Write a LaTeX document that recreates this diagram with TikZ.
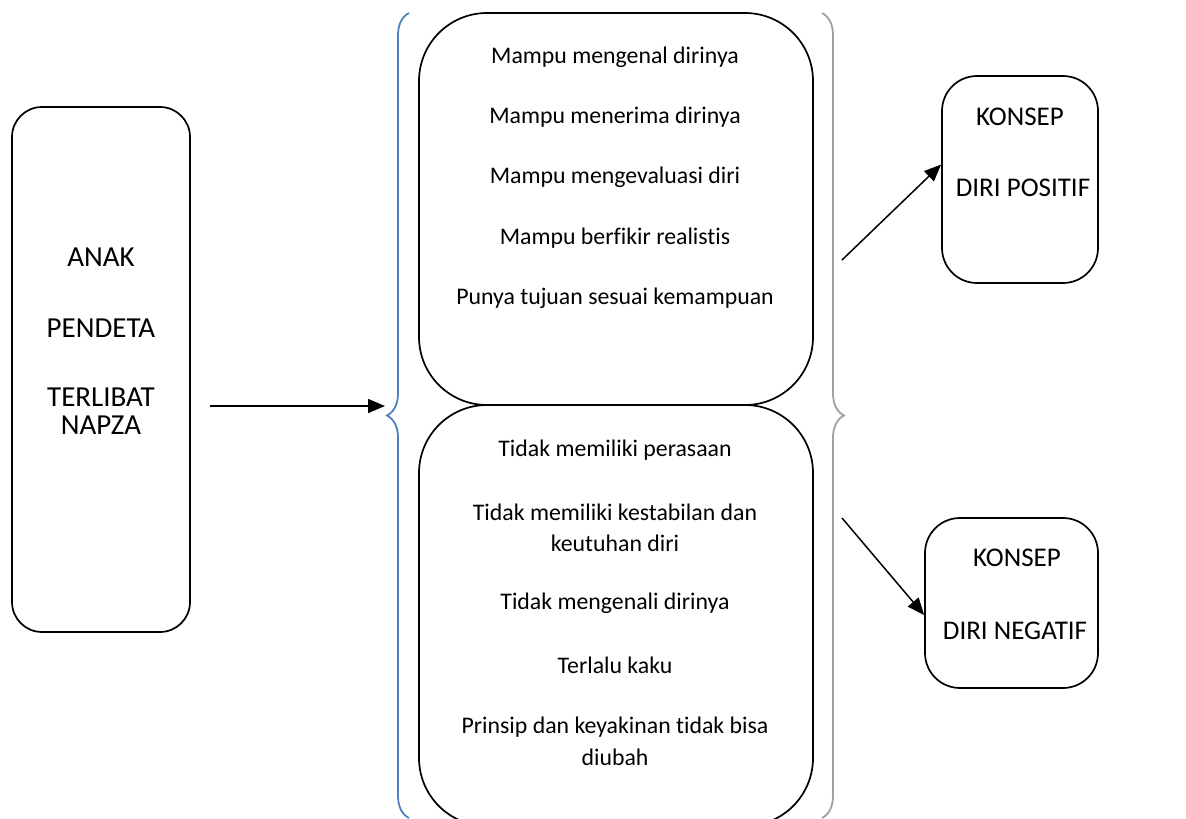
\documentclass[tikz,border=0pt]{standalone}
\usepackage{fontspec}
\setmainfont{Carlito}[Ligatures=CommonOff]
\usetikzlibrary{arrows.meta,decorations.pathreplacing,positioning}
\definecolor{braceblue}{HTML}{4F81BD}
\definecolor{bracegray}{HTML}{A0A0A0}

\begin{document}
\begin{tikzpicture}[x=1pt,y=-1pt,
    box/.style={draw,line width=1.7pt,rounded corners=#1,inner sep=0pt},
    box/.default=30pt,
    txt/.style={font=\fontsize{23.8}{28}\selectfont},
    big/.style={font=\fontsize{29}{34}\selectfont},
    mid/.style={font=\fontsize{27}{32}\selectfont},
    arr/.style={line width=1.5pt,-{Triangle[length=17pt,width=14pt]}},
    brc/.style={line width=1.8pt,decorate,decoration={brace,amplitude=22pt}}]
  \useasboundingbox (0,0) rectangle (1186,819);
  % boxes
  \node[box=30pt,minimum width=178pt,minimum height=525pt] (anak) at (101,369.5) {};
  \node[box=68pt,minimum width=394pt,minimum height=392pt] (ciri) at (616,209) {};
  \node[box=68pt,minimum width=394pt,minimum height=421pt] (tidak) at (616,615.5) {};
  \node[box=35pt,minimum width=156pt,minimum height=207pt] (pos) at (1020,179.5) {};
  \node[box=35pt,minimum width=173pt,minimum height=170pt] (neg) at (1011.5,603) {};
  % braces
  \draw[brc,braceblue] (409,818) -- (409,13);
  \draw[brc,bracegray] (822,13) -- (822,818);
  % texts
  \foreach \y/\t [count=\i] in {257/ANAK,328/PENDETA,397/TERLIBAT,425/NAPZA}
    \node[big] (a\i) at (101,\y) {\t};
  \foreach \y/\t [count=\i] in {57/Mampu mengenal dirinya,117/Mampu menerima dirinya,
      177/Mampu mengevaluasi diri,238/Mampu berfikir realistis,
      298/Punya tujuan sesuai kemampuan}
    \node[txt] (c\i) at (615,\y) {\t};
  \foreach \y/\t [count=\i] in {450/Tidak memiliki perasaan,512/Tidak memiliki kestabilan dan,
      543/keutuhan diri,603/Tidak mengenali dirinya,665/Terlalu kaku,
      727/Prinsip dan keyakinan tidak bisa,757/diubah}
    \node[txt] (d\i) at (615,\y) {\t};
  \node[mid] (p1) at (1020,117) {KONSEP};
  \node[mid] (p2) at (1023,188) {DIRI POSITIF};
  \node[mid] (n1) at (1017,558) {KONSEP};
  \node[mid] (n2) at (1015,631) {DIRI NEGATIF};
  % arrows
  \coordinate (a0) at (210,406);
  \coordinate (b0) at (385,406);
  \coordinate (p0) at (842,260);
  \coordinate (n0) at (842,518);
  \draw[arr] (a0) -- (b0);
  \draw[arr] (p0) -- ([yshift=15pt]pos.west);
  \draw[arr] (n0) -- ([yshift=-12pt]neg.west);
\end{tikzpicture}
\end{document}
